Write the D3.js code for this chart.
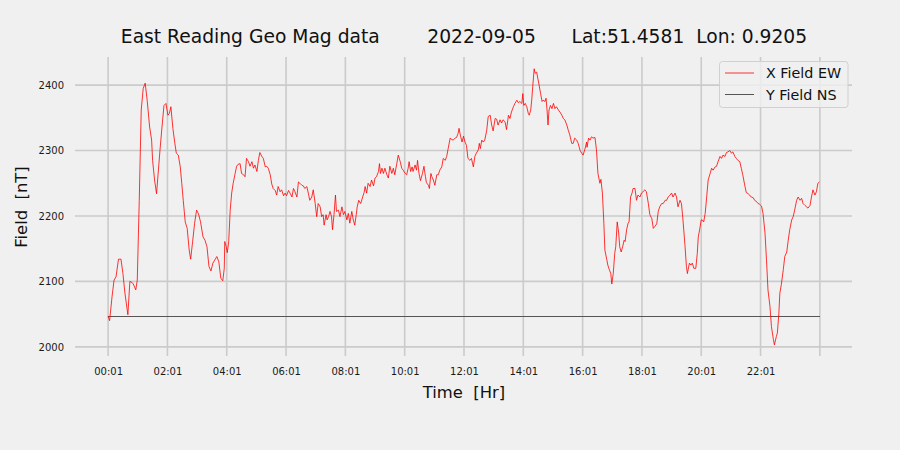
<!DOCTYPE html>
<html>
<head>
<meta charset="utf-8">
<script src="https://cdn.jsdelivr.net/npm/d3@7"></script>
<style>
  html, body { margin: 0; padding: 0; background: #f0f0f0; }
  svg { display: block; font-family: "DejaVu Sans", sans-serif; }
</style>
</head>
<body>
<svg id="chart" width="900" height="450"></svg>
<script>
// Elapsed minutes since 00:01
const minutes = [0,3,8,12,16,21,26,30,34,40,44,49,51,56,59,63,67,71,75,79,84,88,90,94,98,101,105,109,113,117,121,124,127,131,135,138,142,146,149,152,156,160,164,167,171,175,179,183,187,192,196,200,204,208,212,216,220,224,228,232,235,236,239,241,244,247,250,253,257,260,263,267,270,274,277,280,284,287,291,294,297,301,304,307,311,314,318,321,324,328,331,334,338,341,344,348,351,355,358,361,365,368,372,375,378,382,385,388,392,395,398,402,405,408,412,415,419,422,425,429,432,435,437,441,443,446,449,452,454,457,460,462,466,469,473,476,479,483,486,489,493,496,499,502,504,507,511,515,518,520,523,526,530,533,537,540,543,547,549,551,554,557,560,564,567,570,574,577,580,584,587,591,594,597,601,604,607,609,612,615,617,621,624,626,629,632,636,639,642,644,648,650,653,655,658,661,665,668,671,675,678,682,685,688,692,695,698,702,705,708,710,713,716,719,722,725,728,732,735,739,742,745,749,751,753,756,759,762,766,769,773,776,779,783,786,789,793,796,799,803,806,810,813,816,820,823,827,830,833,837,839,841,844,847,850,852,855,857,859,862,864,867,870,872,875,878,880,884,886,888,890,892,895,898,901,904,907,911,914,918,921,924,928,931,934,938,941,944,948,951,955,958,961,965,968,969,972,975,978,981,985,988,991,995,997,1000,1003,1005,1009,1011,1014,1017,1019,1022,1025,1027,1030,1033,1035,1038,1041,1044,1046,1049,1052,1054,1057,1060,1062,1066,1069,1072,1076,1079,1082,1086,1089,1093,1096,1100,1103,1106,1110,1113,1116,1120,1123,1127,1130,1133,1137,1140,1143,1147,1150,1153,1157,1160,1163,1167,1170,1172,1176,1179,1182,1185,1189,1192,1194,1197,1200,1202,1205,1208,1211,1214,1218,1221,1224,1228,1231,1234,1238,1241,1244,1248,1251,1254,1258,1261,1264,1268,1271,1274,1278,1281,1284,1288,1291,1295,1298,1301,1305,1308,1312,1315,1318,1322,1325,1329,1332,1335,1339,1342,1346,1348,1352,1354,1357,1359,1362,1366,1369,1373,1376,1379,1383,1386,1389,1393,1396,1400,1403,1406,1410,1413,1416,1420,1423,1426,1430,1433,1436,1439];

const xFieldEW = [2047,2040,2077,2102,2107,2134,2134,2112,2082,2049,2100,2098,2096,2087,2102,2224,2362,2395,2403,2377,2336,2316,2285,2255,2234,2263,2301,2336,2369,2372,2354,2357,2367,2334,2311,2296,2293,2275,2250,2224,2191,2181,2148,2134,2161,2189,2209,2203,2191,2168,2163,2153,2123,2116,2128,2133,2138,2130,2105,2101,2120,2161,2153,2144,2161,2209,2235,2250,2265,2276,2279,2280,2265,2263,2260,2288,2283,2276,2283,2273,2278,2268,2285,2297,2291,2288,2275,2276,2273,2263,2249,2242,2239,2232,2245,2237,2240,2231,2235,2231,2239,2235,2229,2242,2237,2229,2252,2250,2247,2246,2242,2245,2235,2224,2229,2240,2219,2199,2219,2214,2199,2202,2186,2202,2194,2199,2207,2199,2179,2202,2232,2207,2209,2199,2214,2202,2207,2194,2204,2189,2207,2194,2186,2202,2214,2224,2219,2229,2236,2245,2235,2250,2245,2255,2246,2258,2260,2268,2280,2265,2273,2265,2273,2263,2258,2276,2265,2273,2263,2280,2293,2283,2273,2270,2265,2263,2273,2283,2268,2275,2268,2278,2270,2285,2265,2254,2265,2276,2260,2251,2247,2242,2265,2260,2255,2247,2263,2263,2270,2275,2288,2285,2291,2303,2319,2317,2316,2319,2320,2326,2334,2322,2313,2322,2313,2308,2288,2285,2288,2275,2291,2296,2301,2311,2303,2316,2313,2316,2331,2352,2354,2339,2330,2349,2348,2339,2347,2342,2347,2344,2332,2354,2349,2359,2367,2372,2377,2373,2375,2372,2387,2369,2372,2367,2357,2354,2362,2377,2397,2425,2418,2420,2408,2400,2387,2375,2377,2375,2380,2362,2339,2362,2369,2364,2372,2364,2367,2362,2359,2354,2349,2347,2339,2331,2324,2311,2311,2319,2316,2311,2300,2296,2293,2303,2313,2305,2319,2316,2321,2319,2320,2301,2265,2250,2256,2235,2189,2148,2133,2125,2118,2112,2096,2112,2143,2153,2191,2174,2153,2145,2153,2163,2161,2179,2189,2191,2229,2235,2242,2242,2224,2232,2229,2235,2237,2240,2237,2219,2202,2196,2181,2184,2188,2207,2214,2219,2219,2224,2224,2229,2232,2235,2229,2235,2229,2214,2224,2219,2194,2156,2123,2112,2128,2125,2128,2120,2120,2143,2168,2180,2194,2194,2191,2204,2229,2255,2265,2273,2270,2275,2276,2283,2291,2288,2293,2291,2297,2298,2300,2296,2298,2291,2288,2285,2283,2273,2263,2247,2236,2234,2232,2229,2228,2224,2222,2219,2218,2215,2204,2174,2133,2087,2062,2031,2011,2003,2016,2021,2051,2082,2095,2118,2138,2145,2163,2179,2194,2199,2209,2224,2229,2224,2227,2219,2216,2214,2212,2216,2229,2240,2232,2237,2250,2252];

const yFieldMinutes = [0, 1440];
const yFieldNS = [2047, 2047];

const xTickMinutes = [0,120,240,360,480,600,720,840,960,1080,1200,1320,1440];
const xTickLabels = ["00:01","02:01","04:01","06:01","08:01","10:01","12:01","14:01","16:01","18:01","20:01","22:01",""];
const yTicks = [2000,2100,2200,2300,2400];

const titleText = "East Reading Geo Mag data        2022-09-05      Lat:51.4581  Lon: 0.9205";
const xLabel = "Time  [Hr]";
const yLabel = "Field  [nT]";
const seriesNames = ["X Field EW", "Y Field NS"];
const seriesColors = ["#ff0000", "#555555"];

const svg = d3.select("#chart");
const plotLeft = 75, plotRight = 852, plotTop = 57, plotBottom = 356;

const x = d3.scaleLinear().domain([-67, 1505]).range([plotLeft, plotRight]);
const y = d3.scaleLinear().domain([1986, 2443]).range([plotBottom, plotTop]);

svg.append("rect").attr("width", 900).attr("height", 450).attr("fill", "#f0f0f0");

// Grid
const gridColor = "#cbcbcb";
svg.append("g").selectAll("line").data(yTicks).join("line")
  .attr("x1", plotLeft).attr("x2", plotRight)
  .attr("y1", d => y(d)).attr("y2", d => y(d))
  .attr("stroke", gridColor).attr("stroke-width", 1.6);
svg.append("g").selectAll("line").data(xTickMinutes).join("line")
  .attr("x1", d => x(d)).attr("x2", d => x(d))
  .attr("y1", plotTop).attr("y2", plotBottom)
  .attr("stroke", gridColor).attr("stroke-width", 1.6);

// Axes (labels only)
const xAxis = d3.axisBottom(x).tickValues(xTickMinutes)
  .tickFormat((d, i) => xTickLabels[i]).tickSize(0).tickPadding(0);
const gx = svg.append("g").attr("transform", `translate(0,${plotBottom})`).call(xAxis);
gx.select(".domain").remove();
gx.selectAll("text").attr("font-size", 10).attr("font-family", "DejaVu Sans")
  .attr("fill", "#1a1a1a").attr("dy", "0").attr("y", 19);

const yAxis = d3.axisLeft(y).tickValues(yTicks).tickSize(0).tickPadding(0).tickFormat(d3.format("d"));
const gy = svg.append("g").attr("transform", `translate(64,0)`).call(yAxis);
gy.select(".domain").remove();
gy.selectAll("text").attr("font-size", 10).attr("font-family", "DejaVu Sans")
  .attr("fill", "#1a1a1a").attr("x", 0);

// Lines
const line = d3.line().x(d => x(d[0])).y(d => y(d[1]));
svg.append("path")
  .datum(yFieldMinutes.map((m, i) => [m, yFieldNS[i]]))
  .attr("d", line).attr("fill", "none")
  .attr("stroke", seriesColors[1]).attr("stroke-width", 1)
  .attr("shape-rendering", "crispEdges");
svg.append("path")
  .datum(minutes.map((m, i) => [m, xFieldEW[i]]))
  .attr("d", line).attr("fill", "none")
  .attr("stroke", seriesColors[0]).attr("stroke-width", 0.8)
  .attr("stroke-linejoin", "round");

// Title and labels
svg.append("text").attr("x", 464).attr("y", 43).attr("text-anchor", "middle")
  .attr("font-size", 18.7).attr("fill", "#111").style("white-space", "pre")
  .text(titleText);
svg.append("text").attr("x", 464).attr("y", 398).attr("text-anchor", "middle")
  .attr("font-size", 16.4).attr("fill", "#111").style("white-space", "pre").text(xLabel);
svg.append("text").attr("transform", "translate(27,207) rotate(-90)").attr("text-anchor", "middle")
  .attr("font-size", 16.4).attr("fill", "#111").style("white-space", "pre").text(yLabel);

// Legend
const lg = svg.append("g");
lg.append("rect").attr("x", 719.5).attr("y", 61.5).attr("width", 128.5).attr("height", 46)
  .attr("rx", 3).attr("fill", "#f0f0f0").attr("fill-opacity", 0.8)
  .attr("stroke", "#d0d0d0").attr("stroke-width", 1);
seriesNames.forEach((name, i) => {
  const yy = 73 + i * 21.5;
  lg.append("line").attr("x1", 725).attr("x2", 754).attr("y1", yy).attr("y2", yy)
    .attr("stroke", seriesColors[i]).attr("stroke-width", i === 0 ? 0.8 : 1)
    .attr("shape-rendering", i === 0 ? "auto" : "crispEdges");
  lg.append("text").attr("x", 766).attr("y", yy + 5).attr("font-size", 14.3)
    .attr("fill", "#111").text(name);
});
</script>
</body>
</html>
